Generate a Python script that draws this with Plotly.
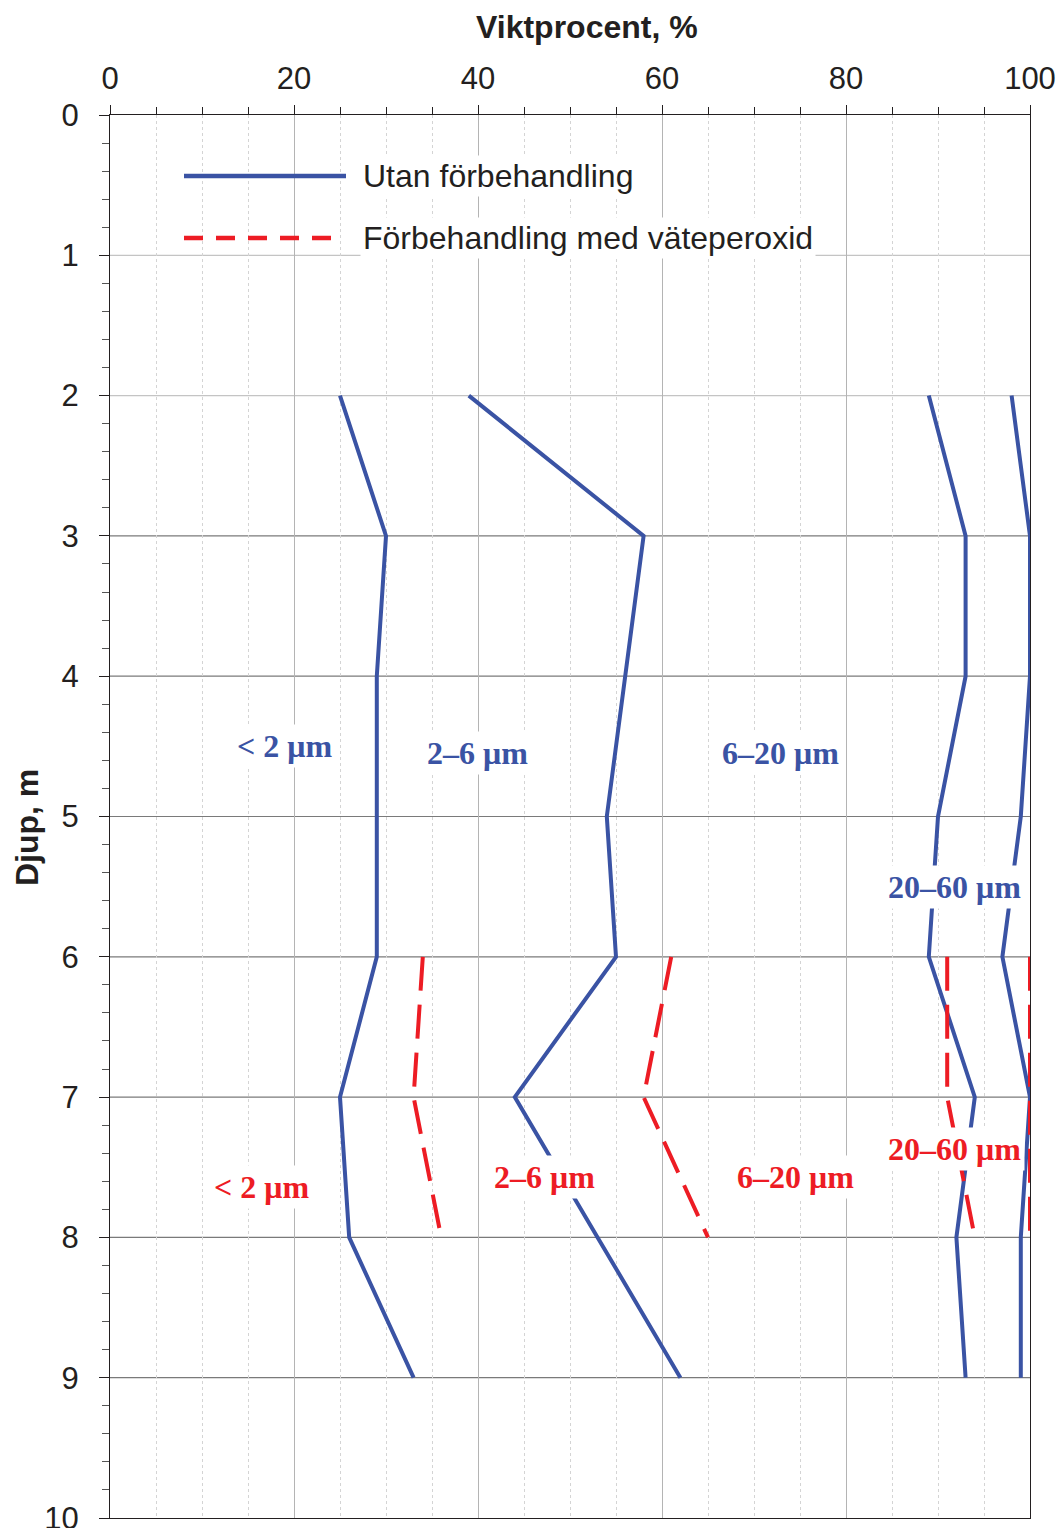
import plotly.graph_objects as go

# Depth profiles of cumulative grain-size fractions (weight percent)
depth_untreated = [2, 3, 4, 5, 6, 7, 8, 9]
untreated_lt2 = [25, 30, 29, 29, 29, 25, 26, 33]
untreated_lt6 = [39, 58, 56, 54, 55, 44, 53, 62]
untreated_lt20 = [89, 93, 93, 90, 89, 94, 92, 93]
untreated_lt60 = [98, 100, 100, 99, 97, 100, 99, 99]

depth_peroxide = [6, 7, 8]
peroxide_lt2 = [34, 33, 36]
peroxide_lt6 = [61, 58, 65]
peroxide_lt20 = [91, 91, 94]
peroxide_lt60 = [100, 100, 100]

# Fraction labels: (text, x, depth)
labels_untreated = [
    ("< 2 μm", 19.0, 4.50),
    ("2–6 μm", 39.9, 4.55),
    ("6–20 μm", 72.9, 4.55),
    ("20–60 μm", 91.8, 5.50),
]
labels_peroxide = [
    ("< 2 μm", 16.5, 7.64),
    ("2–6 μm", 47.2, 7.57),
    ("6–20 μm", 74.5, 7.57),
    ("20–60 μm", 91.8, 7.37),
]

legend_texts = ["Utan förbehandling", "Förbehandling med väteperoxid"]
depth_grid = [1, 2, 3, 4, 5, 6, 7, 8, 9]

BLUE = "#3a53a4"
RED = "#ed1c24"
INK = "#231f20"

fig = go.Figure()

for xs in [untreated_lt2, untreated_lt6, untreated_lt20, untreated_lt60]:
    fig.add_trace(go.Scatter(
        x=xs, y=depth_untreated, mode="lines",
        line=dict(color=BLUE, width=4), showlegend=False, hoverinfo="skip",
        cliponaxis=False))

for xs in [peroxide_lt2, peroxide_lt6, peroxide_lt20, peroxide_lt60]:
    fig.add_trace(go.Scatter(
        x=xs, y=depth_peroxide, mode="lines",
        line=dict(color=RED, width=4, dash="34px,14px"),
        showlegend=False, hoverinfo="skip", cliponaxis=False))

# Horizontal depth gridlines (upper ones lighter)
shapes = []
for d in depth_grid:
    shapes.append(dict(
        type="line", xref="x", yref="y", x0=0, x1=100, y0=d, y1=d,
        line=dict(color="#c4c4c4" if d <= 2 else "#7a7a7a", width=1.2),
        layer="below"))

# Legend samples
shapes.append(dict(type="line", xref="paper", yref="paper",
                   x0=(184 - 110) / 920, x1=(346 - 110) / 920,
                   y0=1 - (176 - 115) / 1403, y1=1 - (176 - 115) / 1403,
                   line=dict(color=BLUE, width=4.5)))
shapes.append(dict(type="line", xref="paper", yref="paper",
                   x0=(184 - 110) / 920, x1=(334 - 110) / 920,
                   y0=1 - (238 - 115) / 1403, y1=1 - (238 - 115) / 1403,
                   line=dict(color=RED, width=4.5, dash="19px,13px")))

annotations = []
for txt, ypx in zip(legend_texts, [176, 238]):
    annotations.append(dict(
        text=txt, xref="paper", yref="paper",
        x=(360 - 110) / 920, y=1 - (ypx - 115) / 1403,
        xanchor="left", yanchor="middle", showarrow=False,
        font=dict(family="Liberation Sans, Arial", size=32, color=INK),
        bgcolor="white", borderpad=2))

for group, color in [(labels_untreated, BLUE), (labels_peroxide, RED)]:
    for txt, x, y in group:
        annotations.append(dict(
            text="<b>" + txt + "</b>", x=x, y=y, xref="x", yref="y",
            showarrow=False, xanchor="center", yanchor="middle",
            font=dict(family="Liberation Serif, Times New Roman", size=32,
                      color=color),
            bgcolor="white", borderpad=3))

# Axis titles
annotations.append(dict(
    text="<b>Viktprocent, %</b>", xref="paper", yref="paper",
    x=(587 - 110) / 920, y=1 + (115 - 27) / 1403,
    xanchor="center", yanchor="middle", showarrow=False,
    font=dict(family="Liberation Sans, Arial", size=32, color=INK)))
annotations.append(dict(
    text="<b>Djup, m</b>", xref="paper", yref="paper",
    x=(27 - 110) / 920, y=1 - (828 - 115) / 1403,
    xanchor="center", yanchor="middle", textangle=-90, showarrow=False,
    font=dict(family="Liberation Sans, Arial", size=32, color=INK)))

fig.update_layout(
    width=1059, height=1528,
    margin=dict(l=110, r=29, t=115, b=10, autoexpand=False),
    paper_bgcolor="white", plot_bgcolor="white",
    showlegend=False,
    shapes=shapes, annotations=annotations,
    font=dict(family="Liberation Sans, Arial", color=INK),
)

fig.update_xaxes(
    side="top", range=[0, 100], dtick=20, tick0=0, automargin=False,
    showline=True, linecolor=INK, linewidth=1.3, mirror=True,
    ticks="outside", ticklen=9, tickcolor=INK, tickwidth=1.2,
    showgrid=True, gridcolor="#b4b4b4", gridwidth=1,
    minor=dict(dtick=5, showgrid=True, gridcolor="#d4d4d4", griddash="dot",
               ticks="outside", ticklen=7, tickcolor=INK, tickwidth=1),
    tickfont=dict(size=31, color=INK), ticklabelstandoff=3,
    ticklabeloverflow="allow",
    zeroline=False,
)

fig.update_yaxes(
    range=[10, 0], dtick=1, tick0=0, automargin=False,
    showline=True, linecolor=INK, linewidth=1.3, mirror=True,
    ticks="outside", ticklen=10, tickcolor=INK, tickwidth=1.2,
    showgrid=False,
    minor=dict(dtick=0.2, ticks="outside", ticklen=7, tickcolor="#555555",
               tickwidth=1, showgrid=False),
    tickfont=dict(size=31, color=INK), ticklabelstandoff=14,
    ticklabeloverflow="allow",
    zeroline=False,
)

fig.write_html("out.html")
